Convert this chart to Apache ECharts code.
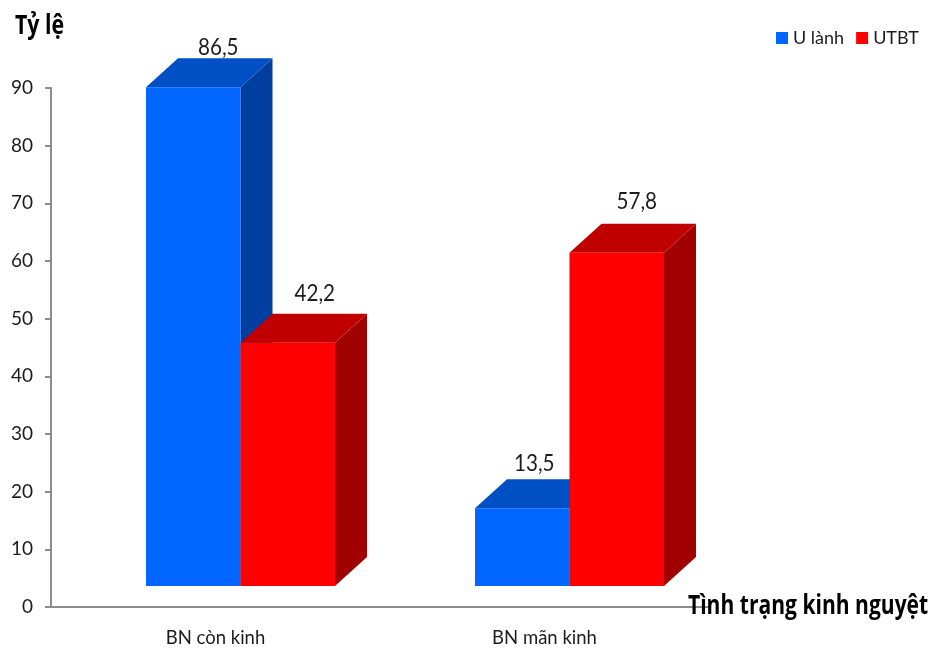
<!DOCTYPE html>
<html>
<head>
<meta charset="utf-8">
<style>html,body{margin:0;padding:0;background:#fff}#c{width:933px;height:650px}</style>
<script src="https://cdn.jsdelivr.net/npm/echarts@6/dist/echarts.min.js"></script>
</head>
<body>
<div id="c"></div>
<script>
// Menstrual status by tumour type, percentages
const categories = ['BN còn kinh', 'BN mãn kinh'];
const benign = [86.5, 13.5];
const malignant = [42.2, 57.8];
const yTicks = { min: 0, max: 90, interval: 10 };
const yTitle = 'Tỷ lệ';
const xTitle = 'Tình trạng kinh nguyệt';

const FONT = 'Lato,"Noto Sans",sans-serif';
const TITLE_FONT = '"Open Sans","Noto Sans",sans-serif';
const TEXT = '#1c1c1c';

// Pseudo-3D box geometry, in pixels
const FLOOR_X = 25, FLOOR_Y = -21, DEPTH_X = 32, DEPTH_Y = -29;
const BAR_SHARE = 0.2872;

// Hand-placed value label offsets from the back top edge of each box
const benignNudge = [[-7, -11], [-20, -16]];
const malignantNudge = [[-5, -20], [-12, -22]];

const comma = v => String(v).replace('.', ',');

function boxRenderer(side, colors, nudges) {
  return function (params, api) {
    const i = api.value(0), v = api.value(1);
    const base = api.coord([i, 0]), top = api.coord([i, v]);
    const w = api.size([1, 0])[0] * BAR_SHARE;
    const x0 = base[0] + FLOOR_X + (side < 0 ? -w : 0), x1 = x0 + w;
    const y0 = top[1] + FLOOR_Y, y1 = base[1] + FLOOR_Y;
    const n = nudges[params.dataIndex];
    return {
      type: 'group',
      children: [
        { type: 'polygon', shape: { points: [[x1, y0], [x1 + DEPTH_X, y0 + DEPTH_Y], [x1 + DEPTH_X, y1 + DEPTH_Y], [x1, y1]] }, style: { fill: colors.side } },
        { type: 'polygon', shape: { points: [[x0, y0], [x0 + DEPTH_X, y0 + DEPTH_Y], [x1 + DEPTH_X, y0 + DEPTH_Y], [x1, y0]] }, style: { fill: colors.top } },
        { type: 'rect', shape: { x: x0, y: y0, width: w, height: y1 - y0 }, style: { fill: colors.front } },
        { type: 'text', x: (x0 + x1) / 2 + DEPTH_X + n[0], y: y0 + DEPTH_Y + n[1], scaleX: 0.86,
          style: { text: comma(v), font: '24px ' + FONT, fill: TEXT, align: 'center', verticalAlign: 'middle' } }
      ]
    };
  };
}

const blue = { front: '#0066ff', top: '#004fc4', side: '#003e9f' };
const red = { front: '#ff0000', top: '#c00000', side: '#a00000' };
const rows = arr => arr.map((v, i) => [i, v]);

const chart = echarts.init(document.getElementById('c'), null, { renderer: 'canvas' });
chart.setOption({
  animation: false,
  backgroundColor: '#fff',
  grid: { left: 51, top: 88, width: 658, height: 519, outerBoundsMode: 'none' },
  legend: {
    orient: 'horizontal', left: 776, top: 29, width: 157, padding: 0,
    itemWidth: 12, itemHeight: 12, itemGap: 12,
    icon: 'rect',
    data: [{ name: 'U lành', itemStyle: { color: blue.front } }, { name: 'UTBT', itemStyle: { color: red.front } }],
    textStyle: { fontFamily: FONT, fontSize: 18, color: TEXT }
  },
  graphic: [
    { type: 'text', x: 15, y: 27, scaleX: 0.82, z: 10,
      style: { text: yTitle, font: 'bold 26px ' + TITLE_FONT, fill: '#000', verticalAlign: 'middle' } },
    { type: 'text', x: 688, y: 607, scaleX: 0.81, z: 10,
      style: { text: xTitle, font: 'bold 26px ' + TITLE_FONT, fill: '#000', verticalAlign: 'middle' } }
  ],
  xAxis: {
    type: 'category',
    data: categories,
    axisLine: { lineStyle: { color: '#8c8c8c', width: 2 } },
    axisTick: { length: 6, lineStyle: { color: '#8c8c8c', width: 2 } },
    axisLabel: { fontFamily: FONT, fontSize: 18.5, color: TEXT, margin: 22 }
  },
  yAxis: {
    type: 'value',
    min: yTicks.min, max: yTicks.max, interval: yTicks.interval,
    splitLine: { show: false },
    axisLine: { show: true, lineStyle: { color: '#8c8c8c', width: 2 } },
    axisTick: { show: true, length: 6, lineStyle: { color: '#8c8c8c', width: 2 } },
    axisLabel: { fontFamily: FONT, fontSize: 19, color: TEXT, margin: 18, padding: [3, 0, 0, 0] }
  },
  series: [
    { name: 'U lành', type: 'custom', coordinateSystem: 'cartesian2d', clip: false, itemStyle: { color: blue.front },
      renderItem: boxRenderer(-1, blue, benignNudge), encode: { x: 0, y: 1 }, data: rows(benign) },
    { name: 'UTBT', type: 'custom', coordinateSystem: 'cartesian2d', clip: false, itemStyle: { color: red.front },
      renderItem: boxRenderer(1, red, malignantNudge), encode: { x: 0, y: 1 }, data: rows(malignant) }
  ]
});
</script>
</body>
</html>
